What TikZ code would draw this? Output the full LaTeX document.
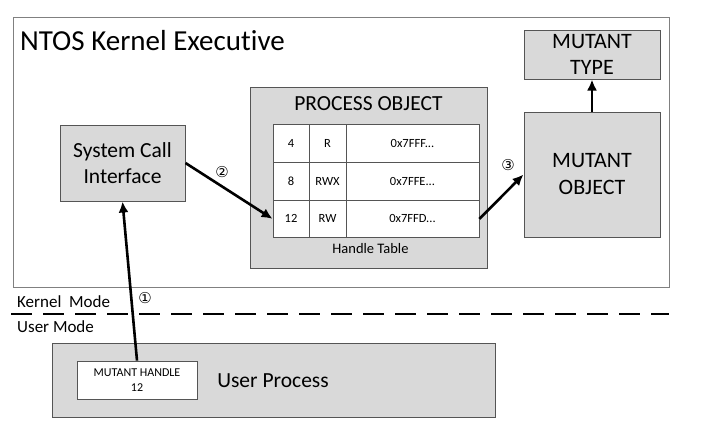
\documentclass[tikz,border=0pt]{standalone}
\usepackage{fontspec}
\setmainfont[Ligatures=NoCommon]{Carlito}
\newfontfamily\circfont{DejaVu Sans}
\usetikzlibrary{arrows.meta}
\definecolor{boxgray}{HTML}{D9D9D9}
\definecolor{edgegray}{HTML}{555555}
\tikzset{%
    box/.style={draw=edgegray,fill=boxgray,line width=1pt,align=center,inner sep=0pt}
}

\begin{document}
\begin{tikzpicture}[
        x=1pt,y=-1pt,
        cell/.style={draw=edgegray,fill=white,line width=0.8pt,inner sep=0pt,minimum height=37.7pt,font=\fontsize{12.5}{15}\selectfont},
        edge/.style={line width=2.6pt,-{Latex[length=11pt,width=10pt]}},
        num/.style={font=\circfont\fontsize{15}{16}\selectfont}
        ]
        \useasboundingbox (0,0) rectangle (726,426);

        % kernel side
        \node[draw=gray,line width=1pt,minimum width=656pt,minimum height=270pt,inner sep=0pt] (ntos) at (341,152){};
        \node[anchor=west,inner sep=0pt,font=\fontsize{29}{34}\selectfont] (ntostxt) at (20,41){NTOS Kernel Executive};

        \node[box,minimum width=125pt,minimum height=76pt,font=\fontsize{21.5}{26}\selectfont] (sci) at (122.5,163){System Call\\Interface};

        \node[box,minimum width=237pt,minimum height=181pt] (proc) at (368.5,177.5){};
        \node[font=\fontsize{21.5}{26}\selectfont] (proctxt) at (368.5,104){PROCESS OBJECT};
        \node[font=\fontsize{14.5}{17}\selectfont] (tabtxt) at (370.5,249){Handle Table};

        % handle table
        \node[cell,minimum width=36pt] (h4) at (291,143.5){4};
        \node[cell,minimum width=37pt] (a4) at (327.5,143.5){R};
        \node[cell,minimum width=133pt] (p4) at (412.5,143.5){0x7FFF...};
        \node[cell,minimum width=36pt] (h8) at (291,181.2){8};
        \node[cell,minimum width=37pt] (a8) at (327.5,181.2){RWX};
        \node[cell,minimum width=133pt] (p8) at (412.5,181.2){0x7FFE...};
        \node[cell,minimum width=36pt] (h12) at (291,218.9){12};
        \node[cell,minimum width=37pt] (a12) at (327.5,218.9){RW};
        \node[cell,minimum width=133pt] (p12) at (412.5,218.9){0x7FFD...};

        \node[box,minimum width=136pt,minimum height=125pt,font=\fontsize{22}{27}\selectfont] (mobj) at (592,174.5){MUTANT\\OBJECT};
        \node[box,minimum width=136pt,minimum height=49pt,font=\fontsize{22}{26}\selectfont] (mtype) at (592,54.5){MUTANT\\TYPE};

        % mode split
        \node[anchor=west,inner sep=0pt,font=\fontsize{17}{20}\selectfont] (kmode) at (17,302){Kernel\ \ Mode};
        \node[anchor=west,inner sep=0pt,font=\fontsize{17}{20}\selectfont] (umode) at (17,327){User Mode};
        \coordinate (dl) at (11,314);
        \coordinate (dr) at (669,314);
        \draw[line width=2.8pt,dash pattern=on 21pt off 11pt] (dl) -- (dr);

        % user side
        \node[box,minimum width=443pt,minimum height=74pt] (user) at (273.5,380){};
        \node[font=\fontsize{21.5}{26}\selectfont] (usertxt) at (273,381){User Process};
        \node[draw=edgegray,fill=white,line width=0.8pt,minimum width=120pt,minimum height=38pt,inner sep=0pt,align=center,font=\fontsize{12}{15}\selectfont] (mh) at (137,380){MUTANT HANDLE\\12};

        % arrows
        \draw[edge] (mh.north) -- (sci.south);
        \draw[edge] (sci.east) -- (h12.west);
        \draw[edge] (p12.east) -- (mobj.west);
        \draw[edge] (mobj.north) -- (mtype.south);

        \node[num] (n1) at (145,298){①};
        \node[num] (n2) at (222,172){②};
        \node[num] (n3) at (508,165){③};
    \end{tikzpicture}
\end{document}
